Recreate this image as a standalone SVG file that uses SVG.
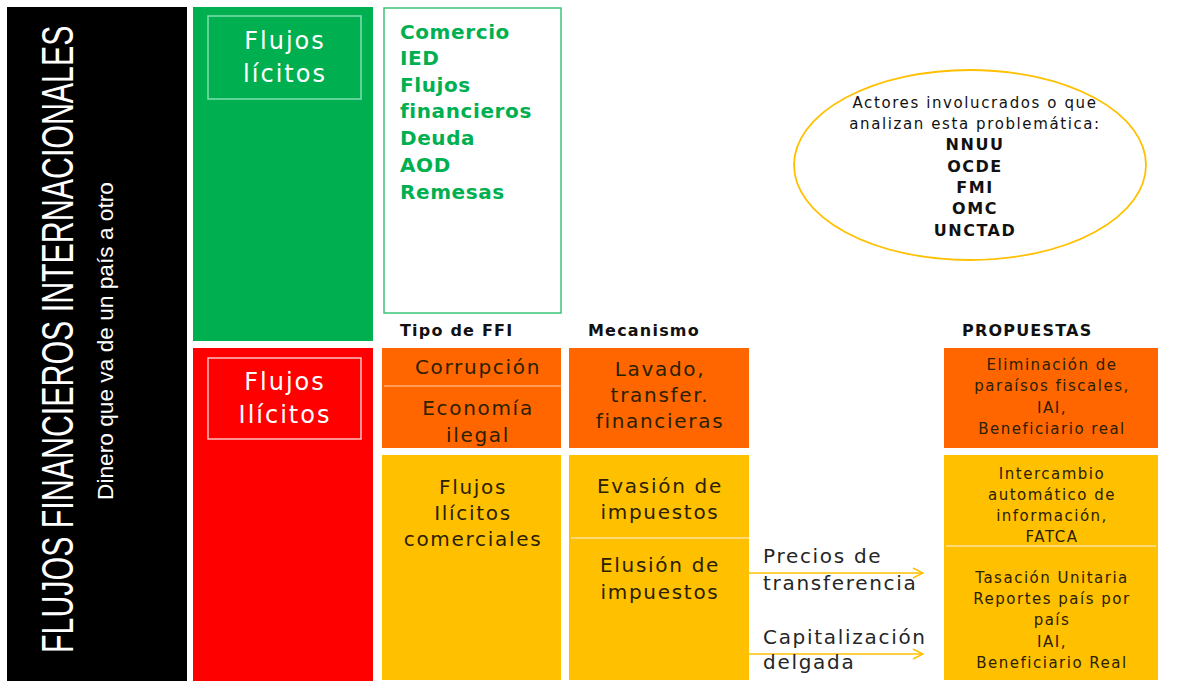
<svg xmlns="http://www.w3.org/2000/svg" width="1180" height="687" viewBox="0 0 1180 687">
<defs>
<style>
.t{font-family:"DejaVu Sans","Liberation Sans",sans-serif;}
.box{font-size:20px;letter-spacing:1.7px;fill:#2b2100;text-anchor:middle;}
.prop{font-size:15px;letter-spacing:1.5px;fill:#2b2100;text-anchor:middle;}
.hdr{font-family:"DejaVu Sans","Liberation Sans",sans-serif;font-size:16px;letter-spacing:1.2px;font-weight:bold;fill:#111;}
.lst{font-family:"DejaVu Sans","Liberation Sans",sans-serif;font-size:20px;letter-spacing:0.6px;font-weight:bold;fill:#00B050;}
.wl{font-family:"DejaVu Sans","Liberation Sans",sans-serif;font-size:24px;letter-spacing:2px;fill:#fff;text-anchor:middle;}
.ell{font-family:"DejaVu Sans","Liberation Sans",sans-serif;font-size:15px;letter-spacing:1.6px;fill:#111;text-anchor:middle;}
.acr{font-size:16px;font-weight:bold;letter-spacing:1.5px;}
.arr{fill:none;stroke:#FFC000;stroke-width:1.5;}
.lbl{font-family:"DejaVu Sans","Liberation Sans",sans-serif;font-size:20px;letter-spacing:1.7px;fill:#262626;}
.div{stroke:#FFE0A0;stroke-width:1.5;}
</style>
<marker id="ah" viewBox="0 0 12 12" refX="11" refY="6" markerWidth="12" markerHeight="12" markerUnits="userSpaceOnUse" orient="auto">
<path d="M1,1 L11,6 L1,11" fill="none" stroke="#FFC000" stroke-width="1.5"/>
</marker>
</defs>
<rect width="1180" height="687" fill="#fff"/>

<g id="title-bar">
<rect x="7" y="7" width="180" height="674" fill="#000"/>
<text transform="translate(73,653) rotate(-90) scale(0.69,1)" font-family="Liberation Sans,sans-serif" font-size="44" fill="#fff">FLUJOS FINANCIEROS INTERNACIONALES</text>
<text transform="translate(113,500) rotate(-90)" font-family="Liberation Sans,sans-serif" font-size="22" fill="#fff" textLength="318" lengthAdjust="spacingAndGlyphs">Dinero que va de un país a otro</text>
</g>

<g id="licitos">
<rect x="193" y="7" width="180" height="334" fill="#00B050"/>
<rect x="208" y="16" width="153" height="83" fill="none" stroke="#7FE0B0" stroke-width="1.5"/>
<text class="wl" x="285" y="49">Flujos</text>
<text class="wl" x="285" y="82">lícitos</text>
</g>

<g id="licitos-list">
<rect x="384" y="8" width="177" height="305" fill="#fff" stroke="#3CC47A" stroke-width="1.5"/>
<text class="lst" x="400" y="39">Comercio</text>
<text class="lst" x="400" y="65">IED</text>
<text class="lst" x="400" y="92">Flujos</text>
<text class="lst" x="400" y="118">financieros</text>
<text class="lst" x="400" y="145">Deuda</text>
<text class="lst" x="400" y="172">AOD</text>
<text class="lst" x="400" y="199">Remesas</text>
</g>

<g id="actores">
<ellipse cx="970" cy="165" rx="176" ry="95" fill="#fff" stroke="#FFC000" stroke-width="1.8"/>
<text class="ell" x="975" y="108">Actores involucrados o que</text>
<text class="ell" x="975" y="129">analizan esta problemática:</text>
<text class="ell acr" x="975" y="150">NNUU</text>
<text class="ell acr" x="975" y="172">OCDE</text>
<text class="ell acr" x="975" y="193">FMI</text>
<text class="ell acr" x="975" y="214">OMC</text>
<text class="ell acr" x="975" y="236">UNCTAD</text>
</g>

<g id="ilicitos">
<rect x="193" y="348" width="180" height="333" fill="#FF0000"/>
<rect x="208" y="358" width="153" height="81" fill="none" stroke="#FFC0C0" stroke-width="1.5"/>
<text class="wl" x="285" y="390">Flujos</text>
<text class="wl" x="285" y="423">Ilícitos</text>
</g>

<g id="headers">
<text class="hdr" x="400" y="336">Tipo de FFI</text>
<text class="hdr" x="588" y="336">Mecanismo</text>
<text class="hdr" x="962" y="336">PROPUESTAS</text>
</g>

<g id="tipo-orange">
<rect x="382" y="348" width="179" height="100" fill="#FF6600"/>
<line x1="384" y1="386" x2="561" y2="386" stroke="#FFB070" stroke-width="1.5"/>
<text class="t box" x="478" y="374">Corrupción</text>
<text class="t box" x="478" y="415">Economía</text>
<text class="t box" x="478" y="442">ilegal</text>
</g>

<g id="tipo-yellow">
<rect x="382" y="455" width="179" height="225" fill="#FFC000"/>
<text class="t box" x="473" y="494">Flujos</text>
<text class="t box" x="473" y="520">Ilícitos</text>
<text class="t box" x="473" y="546">comerciales</text>
</g>

<g id="mec-orange">
<rect x="569" y="348" width="180" height="100" fill="#FF6600"/>
<text class="t box" x="660" y="376">Lavado,</text>
<text class="t box" x="660" y="402">transfer.</text>
<text class="t box" x="660" y="428">financieras</text>
</g>

<g id="mec-yellow">
<rect x="569" y="455" width="180" height="225" fill="#FFC000"/>
<line class="div" x1="571" y1="538" x2="749" y2="538"/>
<text class="t box" x="660" y="493">Evasión de</text>
<text class="t box" x="660" y="519">impuestos</text>
<text class="t box" x="660" y="572">Elusión de</text>
<text class="t box" x="660" y="599">impuestos</text>
</g>

<g id="prop-orange">
<rect x="944" y="348" width="214" height="100" fill="#FF6600"/>
<text class="t prop" x="1052" y="370">Eliminación de</text>
<text class="t prop" x="1052" y="391">paraísos fiscales,</text>
<text class="t prop" x="1052" y="413">IAI,</text>
<text class="t prop" x="1052" y="434">Beneficiario real</text>
</g>

<g id="prop-yellow">
<rect x="944" y="455" width="214" height="225" fill="#FFC000"/>
<line class="div" x1="946" y1="546" x2="1156" y2="546"/>
<text class="t prop" x="1052" y="479">Intercambio</text>
<text class="t prop" x="1052" y="500">automático de</text>
<text class="t prop" x="1052" y="521">información,</text>
<text class="t prop" x="1052" y="542">FATCA</text>
<text class="t prop" x="1052" y="583">Tasación Unitaria</text>
<text class="t prop" x="1052" y="604">Reportes país por</text>
<text class="t prop" x="1052" y="625">país</text>
<text class="t prop" x="1052" y="647">IAI,</text>
<text class="t prop" x="1052" y="668">Beneficiario Real</text>
</g>

<g id="connectors">
<line class="arr" x1="749" y1="573" x2="923" y2="573" marker-end="url(#ah)"/>
<line class="arr" x1="749" y1="654" x2="923" y2="654" marker-end="url(#ah)"/>
<text class="lbl" x="763" y="563">Precios de</text>
<text class="lbl" x="763" y="590">transferencia</text>
<text class="lbl" x="763" y="644">Capitalización</text>
<text class="lbl" x="763" y="669">delgada</text>
</g>
</svg>
